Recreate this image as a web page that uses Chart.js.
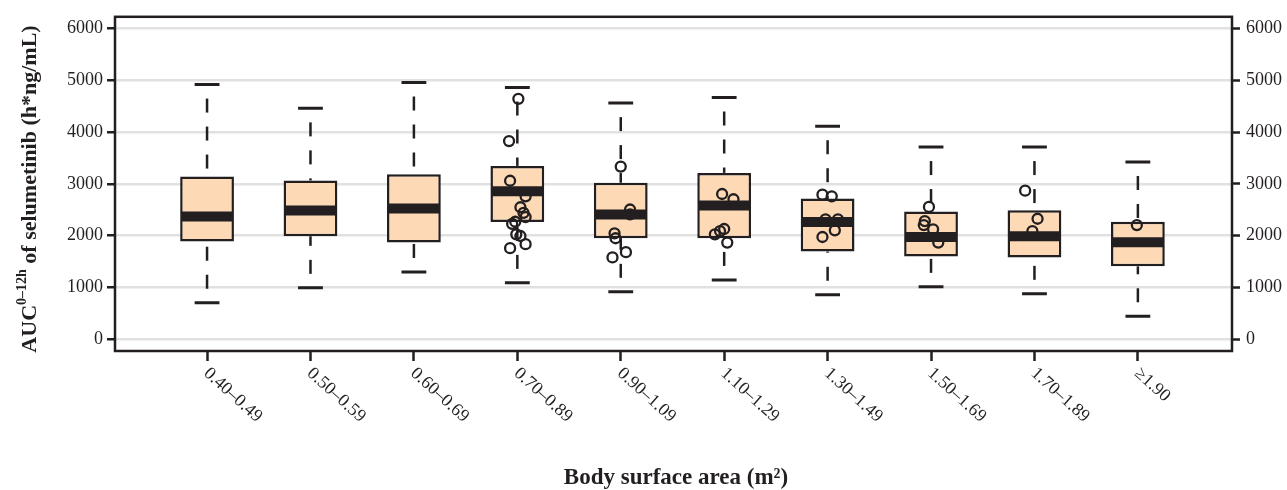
<!DOCTYPE html>
<html>
<head>
<meta charset="utf-8">
<script src="https://cdn.jsdelivr.net/npm/chart.js@4.4.0/dist/chart.umd.min.js"></script>
<style>
  html, body { margin: 0; padding: 0; background: #fff; }
</style>
</head>
<body>
<canvas id="chart" width="1287" height="490"></canvas>
<script>
// Body surface area groups
const categories = ['0.40–0.49', '0.50–0.59', '0.60–0.69', '0.70–0.89', '0.90–1.09',
                    '1.10–1.29', '1.30–1.49', '1.50–1.69', '1.70–1.89', '≥1.90'];

// Box statistics (AUC 0-12h, h*ng/mL)
const whiskerLow  = [703, 991, 1298, 1087, 914, 1144, 857, 1010, 875, 441];
const q1          = [1885, 1988, 1865, 2262, 1949, 1949, 1693, 1597, 1578, 1406];
const median      = [2371, 2486, 2524, 2856, 2409, 2581, 2262, 1974, 1987, 1873];
const q3          = [3143, 3067, 3188, 3348, 3022, 3213, 2716, 2466, 2492, 2268];
const whiskerHigh = [4920, 4460, 4960, 4863, 4562, 4670, 4115, 3712, 3712, 3424];

// Individual observations (x = group index with jitter)
const pointX = [3.01, 2.92, 2.93, 3.08, 3.03, 3.06, 3.08, 2.98, 2.95, 2.99, 3.03, 3.08, 2.93,
                4.00, 4.09, 4.09, 3.94, 3.95, 4.05, 3.92,
                4.98, 5.09, 4.91, 4.96, 5.00, 5.03,
                5.95, 6.04, 5.98, 6.10, 6.07, 5.95,
                6.98, 6.94, 6.93, 7.02, 7.07,
                7.91, 8.03, 7.98,
                8.99];
const pointY = [4645, 3828, 3061, 2760, 2549, 2440, 2358, 2268, 2229, 2026, 1993, 1834, 1758,
                3335, 2505, 2409, 2045, 1949, 1681, 1578,
                2805, 2703, 2026, 2089, 2128, 1865,
                2792, 2760, 2313, 2313, 2102, 1974,
                2555, 2281, 2204, 2122, 1865,
                2869, 2326, 2089,
                2204];

const yTicks = [0, 1000, 2000, 3000, 4000, 5000, 6000];

const ink = '#231F20';
const boxFill = '#FDD9B5';
const gridGray = '#E1E1E1';
const serif = '"Liberation Serif", "Times New Roman", serif';

const boxData = categories.map((c, i) => ({ x: i, y: [q1[i], q3[i]] }));
const dots = pointX.map((x, i) => ({ x: x, y: pointY[i] }));

const boxExtras = {
  id: 'boxExtras',
  beforeDatasetsDraw(chart) {
    const { ctx, scales: { x, y } } = chart;
    ctx.save();
    ctx.strokeStyle = ink;
    for (let i = 0; i < categories.length; i++) {
      const cx = x.getPixelForValue(i);
      // dashed whiskers
      ctx.lineWidth = 2.5;
      ctx.setLineDash([14, 14]);
      ctx.lineDashOffset = 14;
      ctx.beginPath();
      ctx.moveTo(cx, y.getPixelForValue(whiskerHigh[i]));
      ctx.lineTo(cx, y.getPixelForValue(q3[i]));
      ctx.stroke();
      ctx.beginPath();
      ctx.moveTo(cx, y.getPixelForValue(whiskerLow[i]));
      ctx.lineTo(cx, y.getPixelForValue(q1[i]));
      ctx.stroke();
      // caps
      ctx.setLineDash([]);
      ctx.lineWidth = 3;
      const l = x.getPixelForValue(i - 0.12), r = x.getPixelForValue(i + 0.12);
      ctx.beginPath();
      ctx.moveTo(l, y.getPixelForValue(whiskerHigh[i]));
      ctx.lineTo(r, y.getPixelForValue(whiskerHigh[i]));
      ctx.moveTo(l, y.getPixelForValue(whiskerLow[i]));
      ctx.lineTo(r, y.getPixelForValue(whiskerLow[i]));
      ctx.stroke();
    }
    ctx.restore();
  },
  afterDatasetsDraw(chart) {
    const { ctx, chartArea, scales: { y } } = chart;
    const bars = chart.getDatasetMeta(0).data;
    ctx.save();
    // thick median bars
    ctx.strokeStyle = ink;
    ctx.lineWidth = 10;
    bars.forEach((bar, i) => {
      const my = y.getPixelForValue(median[i]);
      ctx.beginPath();
      ctx.moveTo(bar.x - bar.width / 2 + 1, my);
      ctx.lineTo(bar.x + bar.width / 2 - 1, my);
      ctx.stroke();
    });
    // plot frame
    ctx.lineWidth = 2.5;
    ctx.strokeRect(chartArea.left, chartArea.top, chartArea.right - chartArea.left, chartArea.bottom - chartArea.top);
    ctx.restore();
  },
  afterDraw(chart) {
    const { ctx, chartArea, scales: { x } } = chart;
    ctx.save();
    ctx.fillStyle = ink;

    // rotated category labels
    ctx.font = '18px ' + serif;
    ctx.textAlign = 'left';
    ctx.textBaseline = 'middle';
    categories.forEach((c, i) => {
      ctx.save();
      ctx.translate(x.getPixelForValue(i) - 1, chartArea.bottom + 20);
      ctx.rotate(42 * Math.PI / 180);
      ctx.fillText(c, 0, 0);
      ctx.restore();
    });

    // x axis title
    ctx.font = 'bold 23px ' + serif;
    ctx.textAlign = 'center';
    ctx.fillText('Body surface area (m²)', 676, 478);

    // y axis title with superscript
    const main = 'bold 22px ' + serif, sup = 'bold 14px ' + serif;
    const parts = [['AUC', main, 0], ['0–12h', sup, -8], [' of selumetinib (h*ng/mL)', main, 0]];
    let total = 0;
    parts.forEach(p => { ctx.font = p[1]; total += ctx.measureText(p[0]).width; });
    ctx.translate(30, 189);
    ctx.rotate(-Math.PI / 2);
    ctx.textAlign = 'left';
    let pos = -total / 2;
    parts.forEach(p => {
      ctx.font = p[1];
      ctx.fillText(p[0], pos, p[2]);
      pos += ctx.measureText(p[0]).width;
    });
    ctx.restore();
  }
};

const yAxisCommon = {
  type: 'linear',
  min: -230,
  max: 6230,
  afterBuildTicks: axis => { axis.ticks = yTicks.map(v => ({ value: v })); },
  border: { display: false },
  ticks: { color: ink, font: { family: serif, size: 18 }, callback: v => String(v) }
};

new Chart(document.getElementById('chart'), {
  type: 'bar',
  data: {
    datasets: [
      {
        type: 'bar',
        data: boxData,
        backgroundColor: boxFill,
        borderColor: ink,
        borderWidth: 2.5,
        borderSkipped: false,
        barPercentage: 0.52,
        categoryPercentage: 1,
        order: 2
      },
      {
        type: 'scatter',
        data: dots,
        pointRadius: 5,
        pointBorderWidth: 2.3,
        borderColor: ink,
        backgroundColor: 'rgba(0,0,0,0)',
        order: 1
      }
    ]
  },
  options: {
    responsive: false,
    animation: false,
    layout: { padding: { top: 14, left: 0, right: 0, bottom: 0 } },
    plugins: { legend: { display: false }, tooltip: { enabled: false } },
    scales: {
      x: {
        type: 'linear',
        offset: false,
        min: -0.89,
        max: 9.91,
        afterBuildTicks: axis => { axis.ticks = categories.map((c, i) => ({ value: i })); },
        afterFit: axis => { axis.height = 139; },
        border: { display: false },
        grid: { offset: false, drawOnChartArea: false, color: ink, tickColor: ink, tickLength: 10, tickWidth: 2.5 },
        ticks: { display: false }
      },
      y: Object.assign({}, yAxisCommon, {
        position: 'left',
        afterFit: axis => { axis.width = 115; },
        grid: { color: gridGray, lineWidth: 2.5, tickColor: ink, tickLength: 8, tickWidth: 2.5 },
        ticks: Object.assign({}, yAxisCommon.ticks, { padding: 4 })
      }),
      y2: Object.assign({}, yAxisCommon, {
        position: 'right',
        afterFit: axis => { axis.width = 55; },
        grid: { drawOnChartArea: false, tickColor: ink, tickLength: 8, tickWidth: 2.5 },
        ticks: Object.assign({}, yAxisCommon.ticks, { padding: 6 })
      })
    }
  },
  plugins: [boxExtras]
});
</script>
</body>
</html>
